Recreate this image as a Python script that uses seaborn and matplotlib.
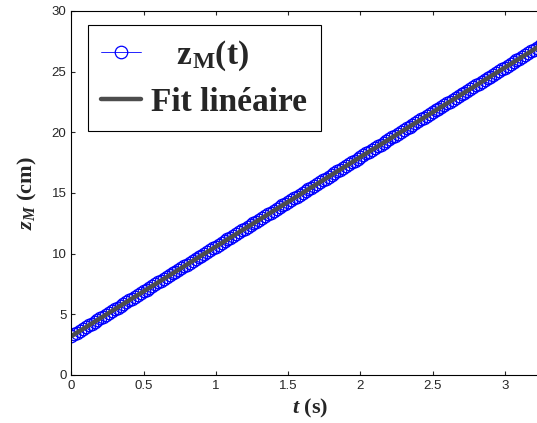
import numpy as np
import seaborn as sns
import matplotlib
matplotlib.use('Agg')
import matplotlib.pyplot as plt

# sampling step (s) and measured positions z_M (cm)
dt = 0.02
z_m = [3.20, 3.35, 3.50, 3.64, 3.79, 3.94, 4.09, 4.23, 4.38, 4.53,
       4.68, 4.82, 4.97, 5.12, 5.27, 5.41, 5.56, 5.71, 5.86, 6.00,
       6.15, 6.30, 6.45, 6.59, 6.74, 6.89, 7.04, 7.19, 7.33, 7.48,
       7.63, 7.78, 7.92, 8.07, 8.22, 8.37, 8.51, 8.66, 8.81, 8.96,
       9.10, 9.25, 9.40, 9.55, 9.69, 9.84, 9.99, 10.14, 10.28, 10.43,
       10.58, 10.73, 10.88, 11.02, 11.17, 11.32, 11.47, 11.61, 11.76, 11.91,
       12.06, 12.20, 12.35, 12.50, 12.65, 12.79, 12.94, 13.09, 13.24, 13.38,
       13.53, 13.68, 13.83, 13.97, 14.12, 14.27, 14.42, 14.57, 14.71, 14.86,
       15.01, 15.16, 15.30, 15.45, 15.60, 15.75, 15.89, 16.04, 16.19, 16.34,
       16.48, 16.63, 16.78, 16.93, 17.07, 17.22, 17.37, 17.52, 17.66, 17.81,
       17.96, 18.11, 18.26, 18.40, 18.55, 18.70, 18.85, 18.99, 19.14, 19.29,
       19.44, 19.58, 19.73, 19.88, 20.03, 20.17, 20.32, 20.47, 20.62, 20.76,
       20.91, 21.06, 21.21, 21.35, 21.50, 21.65, 21.80, 21.95, 22.09, 22.24,
       22.39, 22.54, 22.68, 22.83, 22.98, 23.13, 23.27, 23.42, 23.57, 23.72,
       23.86, 24.01, 24.16, 24.31, 24.45, 24.60, 24.75, 24.90, 25.04, 25.19,
       25.34, 25.49, 25.64, 25.78, 25.93, 26.08, 26.23, 26.37, 26.52, 26.67,
       26.82, 26.96, 27.11, 27.26, 27.41, 27.55]
t = np.arange(len(z_m)) * dt
xticks = [0, 0.5, 1, 1.5, 2, 2.5, 3]
xticklabels = ['0', '0.5', '1', '1.5', '2', '2.5', '3']
yticks = [0, 5, 10, 15, 20, 25, 30]

sns.set_style('ticks')
plt.rcParams['font.family'] = ['Liberation Sans', 'DejaVu Sans']
plt.rcParams['mathtext.fontset'] = 'custom'
plt.rcParams['mathtext.rm'] = 'Liberation Serif:bold'
plt.rcParams['mathtext.bf'] = 'Liberation Serif:bold'
plt.rcParams['mathtext.it'] = 'Liberation Serif:italic:bold'

fig = plt.figure(figsize=(5.37, 4.23), dpi=100)
ax = fig.add_axes([0.133, 0.1135, 0.888, 0.8605])

coef = np.polyfit(t, z_m, 1)
fit = np.polyval(coef, t)

sns.lineplot(x=t, y=z_m, ax=ax, color='blue', lw=0.6, marker='o',
             markersize=9, markerfacecolor='none', markeredgecolor='blue',
             markeredgewidth=0.9, label=r'$\hspace{1.0}\mathbf{z_M(t)}$')
sns.lineplot(x=t, y=fit, ax=ax, color='#4d4d4d', lw=3.2,
             label='Fit linéaire')

ax.set_xlim(0, 3.3)
ax.set_ylim(0, 30)
ax.set_xticks(xticks)
ax.set_xticklabels(xticklabels)
ax.set_yticks(yticks)
ax.tick_params(direction='in', length=3, width=0.8, labelsize=9.5,
               top=True, right=True, pad=3.5)
for s in ax.spines.values():
    s.set_linewidth(0.8)
    s.set_color('black')

ax.set_xlabel(r'$t$ (s)', fontsize=16, fontfamily='Liberation Serif',
              fontweight='bold', labelpad=4)
ax.set_ylabel(r'$z_M$ (cm)', fontsize=16, fontfamily='Liberation Serif',
              fontweight='bold', labelpad=9)

leg = ax.legend(loc='upper left', bbox_to_anchor=(0.0346, 0.9615),
                borderaxespad=0, fancybox=False, framealpha=1,
                edgecolor='black', handlelength=1.2, handletextpad=0.3,
                labelspacing=0.42, borderpad=0.4,
                prop={'family': 'Liberation Serif', 'weight': 'bold',
                      'size': 24})
leg.get_frame().set_linewidth(0.8)

fig.savefig('out.png', dpi=100)
